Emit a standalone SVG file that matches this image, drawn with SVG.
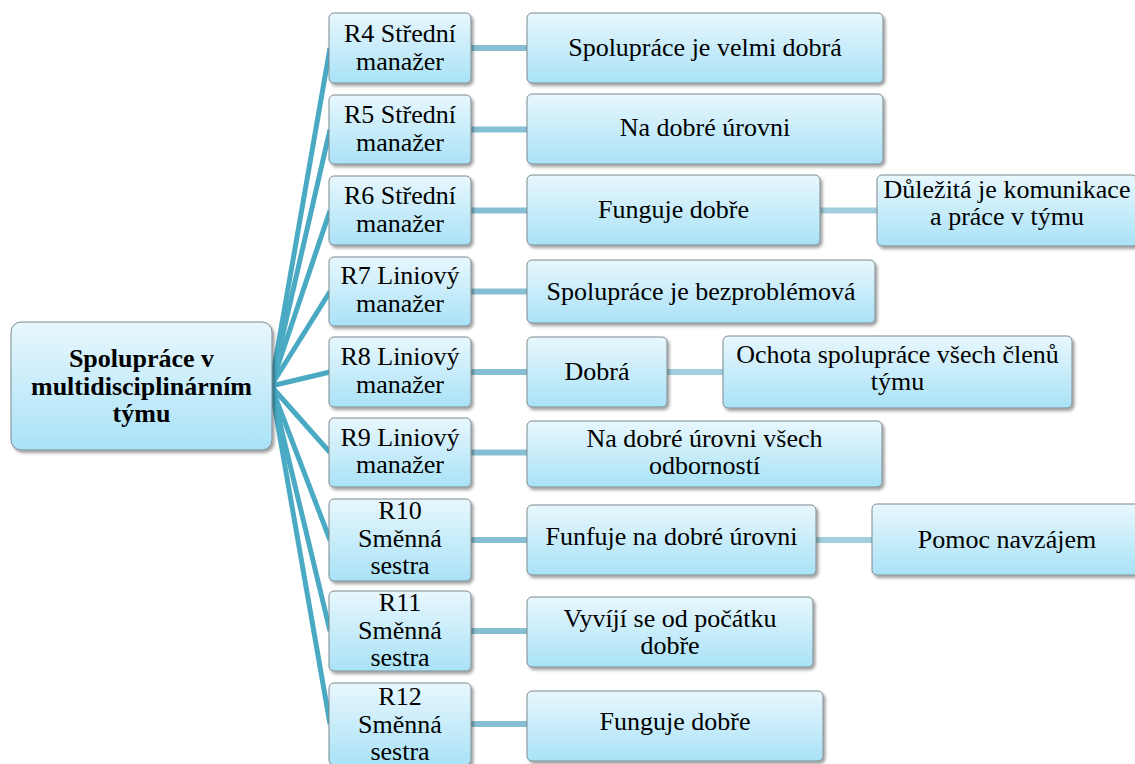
<svg xmlns="http://www.w3.org/2000/svg" width="1135" height="764" viewBox="0 0 1135 764">
  <defs>
    <linearGradient id="boxFill" x1="0" y1="0" x2="0" y2="1">
      <stop offset="0" stop-color="#e8f7fd"/>
      <stop offset="1" stop-color="#a9e2f7"/>
    </linearGradient>
    <filter id="shadow" x="-10%" y="-10%" width="125%" height="130%">
      <feDropShadow dx="2" dy="2.5" stdDeviation="1.5" flood-color="#000" flood-opacity="0.38"/>
    </filter>
  </defs>
  <style>
    .box { fill: url(#boxFill); stroke: #7d8a8f; stroke-width: 1; filter: url(#shadow); }
    text { font-family: "Liberation Serif", "Times New Roman", serif; font-weight: normal; font-size: 26px; fill: #000; text-anchor: middle; }
    text.b { font-weight: bold; }
    .root-link { stroke: #4aaac4; stroke-width: 5; fill: none; stroke-linecap: butt; }
    .l2-link { stroke: #86bfd3; stroke-width: 6; fill: none; }
    .l3-link { stroke: #a1cfdd; stroke-width: 6; fill: none; }
  </style>

  <rect width="1135" height="764" fill="#ffffff"/>

  <!-- connectors -->
  <g id="connectors">
    <line class="root-link" x1="271" y1="386" x2="330" y2="48"/>
    <line class="root-link" x1="271" y1="386" x2="330" y2="129.5"/>
    <line class="root-link" x1="271" y1="386" x2="330" y2="210.5"/>
    <line class="root-link" x1="271" y1="386" x2="330" y2="291.5"/>
    <line class="root-link" x1="271" y1="386" x2="330" y2="372"/>
    <line class="root-link" x1="271" y1="386" x2="330" y2="452.5"/>
    <line class="root-link" x1="271" y1="386" x2="330" y2="540"/>
    <line class="root-link" x1="271" y1="386" x2="330" y2="631"/>
    <line class="root-link" x1="271" y1="386" x2="330" y2="724"/>

    <line class="l2-link" x1="471" y1="48" x2="528" y2="48"/>
    <line class="l2-link" x1="471" y1="129.5" x2="528" y2="129.5"/>
    <line class="l2-link" x1="471" y1="210.5" x2="528" y2="210.5"/>
    <line class="l2-link" x1="471" y1="291.5" x2="528" y2="291.5"/>
    <line class="l2-link" x1="471" y1="372" x2="528" y2="372"/>
    <line class="l2-link" x1="471" y1="452.5" x2="528" y2="452.5"/>
    <line class="l2-link" x1="471" y1="540" x2="528" y2="540"/>
    <line class="l2-link" x1="471" y1="631" x2="528" y2="631"/>
    <line class="l2-link" x1="471" y1="724" x2="528" y2="724"/>

    <line class="l3-link" x1="820" y1="210.5" x2="878" y2="210.5"/>
    <line class="l3-link" x1="667" y1="372" x2="724" y2="372"/>
    <line class="l3-link" x1="816" y1="540" x2="873" y2="540"/>
  </g>

  <!-- root -->
  <g id="root">
    <rect class="box" x="11" y="322" width="261" height="128" rx="10"/>
    <text class="b" x="141.5" y="367">Spolupráce v</text>
    <text class="b" x="141.5" y="394.5">multidisciplinárním</text>
    <text class="b" x="141.5" y="422">týmu</text>
  </g>

  <!-- respondents -->
  <g id="r4">
    <rect class="box" x="329" y="13" width="142" height="70" rx="5"/>
    <text x="400" y="42">R4 Střední</text>
    <text x="400" y="70">manažer</text>
  </g>
  <g id="r5">
    <rect class="box" x="329" y="95" width="142" height="69" rx="5"/>
    <text x="400" y="123">R5 Střední</text>
    <text x="400" y="151">manažer</text>
  </g>
  <g id="r6">
    <rect class="box" x="329" y="176" width="142" height="69" rx="5"/>
    <text x="400" y="204">R6 Střední</text>
    <text x="400" y="232">manažer</text>
  </g>
  <g id="r7">
    <rect class="box" x="329" y="257" width="142" height="69" rx="5"/>
    <text x="400" y="284">R7 Liniový</text>
    <text x="400" y="312">manažer</text>
  </g>
  <g id="r8">
    <rect class="box" x="329" y="337" width="142" height="70" rx="5"/>
    <text x="400" y="365">R8 Liniový</text>
    <text x="400" y="393">manažer</text>
  </g>
  <g id="r9">
    <rect class="box" x="329" y="418" width="142" height="69" rx="5"/>
    <text x="400" y="446">R9 Liniový</text>
    <text x="400" y="473">manažer</text>
  </g>
  <g id="r10">
    <rect class="box" x="329" y="499" width="142" height="82" rx="5"/>
    <text x="400" y="519">R10</text>
    <text x="400" y="547">Směnná</text>
    <text x="400" y="574">sestra</text>
  </g>
  <g id="r11">
    <rect class="box" x="329" y="591" width="142" height="80" rx="5"/>
    <text x="400" y="611">R11</text>
    <text x="400" y="639">Směnná</text>
    <text x="400" y="666">sestra</text>
  </g>
  <g id="r12">
    <rect class="box" x="329" y="683" width="142" height="82" rx="5"/>
    <text x="400" y="705">R12</text>
    <text x="400" y="733">Směnná</text>
    <text x="400" y="760">sestra</text>
  </g>

  <!-- answers -->
  <g id="a4">
    <rect class="box" x="527" y="13" width="356" height="70" rx="5"/>
    <text x="705" y="56">Spolupráce je velmi dobrá</text>
  </g>
  <g id="a5">
    <rect class="box" x="527" y="94" width="356" height="70" rx="5"/>
    <text x="705" y="136">Na dobré úrovni</text>
  </g>
  <g id="a6">
    <rect class="box" x="527" y="175" width="293" height="70" rx="5"/>
    <text x="673.5" y="218">Funguje dobře</text>
  </g>
  <g id="a7">
    <rect class="box" x="527" y="260" width="348" height="63" rx="5"/>
    <text x="701" y="300">Spolupráce je bezproblémová</text>
  </g>
  <g id="a8">
    <rect class="box" x="527" y="337" width="140" height="70" rx="5"/>
    <text x="597" y="380">Dobrá</text>
  </g>
  <g id="a9">
    <rect class="box" x="527" y="421" width="355" height="66" rx="5"/>
    <text x="704.5" y="447">Na dobré úrovni všech</text>
    <text x="704.5" y="474">odborností</text>
  </g>
  <g id="a10">
    <rect class="box" x="527" y="505" width="289" height="70" rx="5"/>
    <text x="671.5" y="545">Funfuje na dobré úrovni</text>
  </g>
  <g id="a11">
    <rect class="box" x="527" y="597" width="286" height="70" rx="5"/>
    <text x="670" y="627">Vyvíjí se od počátku</text>
    <text x="670" y="654">dobře</text>
  </g>
  <g id="a12">
    <rect class="box" x="527" y="691" width="296" height="70" rx="5"/>
    <text x="675" y="730">Funguje dobře</text>
  </g>

  <!-- details -->
  <g id="d6">
    <rect class="box" x="877" y="175" width="260" height="71" rx="5"/>
    <text x="1007" y="198">Důležitá je komunikace</text>
    <text x="1007" y="225">a práce v týmu</text>
  </g>
  <g id="d8">
    <rect class="box" x="723" y="336" width="349" height="72" rx="5"/>
    <text x="897.5" y="363">Ochota spolupráce všech členů</text>
    <text x="897.5" y="390">týmu</text>
  </g>
  <g id="d10">
    <rect class="box" x="872" y="504" width="270" height="71" rx="5"/>
    <text x="1007" y="548">Pomoc navzájem</text>
  </g>
</svg>
